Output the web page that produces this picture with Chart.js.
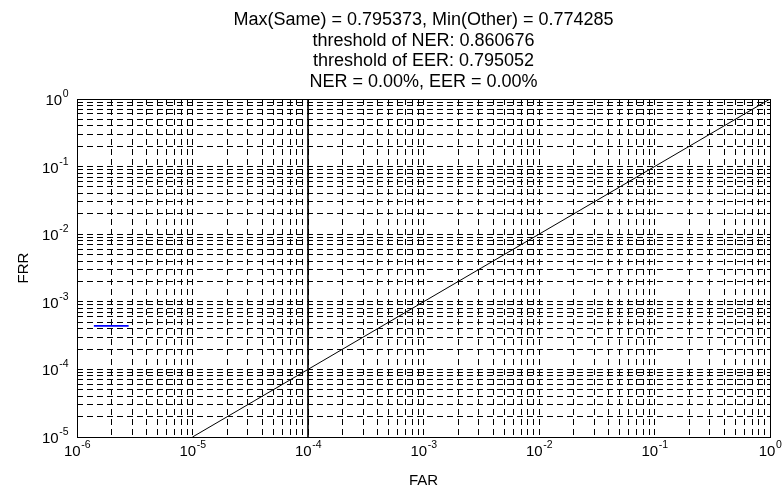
<!DOCTYPE html>
<html>
<head>
<meta charset="utf-8">
<script src="https://cdn.jsdelivr.net/npm/chart.js@4/dist/chart.umd.min.js"></script>
<style>
  html, body { margin: 0; padding: 0; background: #fff; }
  #wrap { width: 783px; height: 491px; }
</style>
</head>
<body>
<div id="wrap"><canvas id="c" width="783" height="491"></canvas></div>
<script>
// Title block and axis names
const titleLines = [
  'Max(Same) = 0.795373, Min(Other) = 0.774285',
  'threshold of NER: 0.860676',
  'threshold of EER: 0.795052',
  'NER = 0.00%, EER = 0.00%'
];
const xLabel = 'FAR';
const yLabel = 'FRR';

// Decade exponents used for the tick labels
const xDecades = [-6, -5, -4, -3, -2, -1, 0];
const yDecades = [-5, -4, -3, -2, -1, 0];

// Equal-error reference diagonal (FAR = FRR)
const diagFar = [1e-5, 1];
const diagFrr = [1e-5, 1];

// Vertical marker at FAR = 1e-4
const markFar = [1e-4, 1e-4];
const markFrr = [1e-5, 1];

// Measured DET curve
const detFar = [1.4e-6, 2.8e-6];
const detFrr = [4.4e-4, 4.4e-4];

const FONT = '"Liberation Sans", Arial, Helvetica, sans-serif';

function pts(xs, ys) { return xs.map((x, i) => ({ x: x, y: ys[i] })); }

// every 1..9 x 10^k value inside the decade range: one grid line each
function logGridTicks(decades) {
  const out = [];
  for (let i = 0; i < decades.length; i++) {
    const base = Math.pow(10, decades[i]);
    if (i === decades.length - 1) { out.push({ value: base }); break; }
    for (let m = 1; m <= 9; m++) out.push({ value: m * base });
  }
  return out;
}

// "10" with a raised exponent
function drawPow(ctx, x, y, exp, align) {
  const mant = '10';
  const e = String(exp);
  ctx.font = '15px ' + FONT;
  const wm = ctx.measureText(mant).width;
  ctx.font = '10.5px ' + FONT;
  const we = ctx.measureText(e).width;
  const left = align === 'center' ? x - (wm + we) / 2 : x - (wm + we);
  ctx.textAlign = 'left';
  ctx.textBaseline = 'alphabetic';
  ctx.font = '15px ' + FONT;
  ctx.fillText(mant, left, y);
  ctx.font = '10.5px ' + FONT;
  ctx.fillText(e, left + wm + 0.5, y - 8);
}

const decor = {
  id: 'decor',
  afterDraw(chart) {
    const { ctx, chartArea: a, scales } = chart;
    ctx.save();
    // axes box
    ctx.strokeStyle = '#000';
    ctx.lineWidth = 1;
    ctx.setLineDash([]);
    ctx.strokeRect(Math.round(a.left) + 0.5, Math.round(a.top) + 0.5,
                   Math.round(a.right - a.left), Math.round(a.bottom - a.top));
    ctx.fillStyle = '#000';
    // x tick labels
    xDecades.forEach(d => {
      const px = scales.x.getPixelForValue(Math.pow(10, d));
      drawPow(ctx, px, a.bottom + 19, d, 'center');
    });
    // y tick labels
    yDecades.forEach(d => {
      const py = scales.y.getPixelForValue(Math.pow(10, d));
      drawPow(ctx, a.left - 9, py + 6, d, 'right');
    });
    // title
    ctx.font = '18px ' + FONT;
    ctx.textAlign = 'center';
    ctx.textBaseline = 'alphabetic';
    const cx = (a.left + a.right) / 2;
    titleLines.forEach((t, i) => ctx.fillText(t, cx, 25 + i * 20.5));
    // axis names
    ctx.font = '15px ' + FONT;
    ctx.fillText(xLabel, cx, a.bottom + 48);
    ctx.save();
    ctx.translate(28, (a.top + a.bottom) / 2);
    ctx.rotate(-Math.PI / 2);
    ctx.fillText(yLabel, 0, 0);
    ctx.restore();
    ctx.restore();
  }
};

function logAxis(min, max, decades) {
  return {
    type: 'logarithmic',
    min: min,
    max: max,
    afterBuildTicks(scale) { scale.ticks = logGridTicks(decades); },
    ticks: { display: false },
    grid: { color: '#000', lineWidth: 1, drawTicks: false },
    border: { display: false, dash: [6, 4] }
  };
}

new Chart(document.getElementById('c'), {
  type: 'scatter',
  data: {
    datasets: [
      { data: pts(diagFar, diagFrr), showLine: true, borderColor: '#000', borderWidth: 1, pointRadius: 0 },
      { data: pts(markFar, markFrr), showLine: true, borderColor: '#000', borderWidth: 1.6, pointRadius: 0 },
      { data: pts(detFar, detFrr), showLine: true, borderColor: '#0000ff', borderWidth: 1.6, pointRadius: 0 }
    ]
  },
  options: {
    responsive: false,
    animation: false,
    layout: { padding: { left: 77, top: 99, right: 13, bottom: 54 } },
    plugins: { legend: { display: false }, tooltip: { enabled: false }, title: { display: false } },
    scales: {
      x: logAxis(1e-6, 1, xDecades),
      y: logAxis(1e-5, 1, yDecades)
    }
  },
  plugins: [decor]
});
</script>
</body>
</html>
